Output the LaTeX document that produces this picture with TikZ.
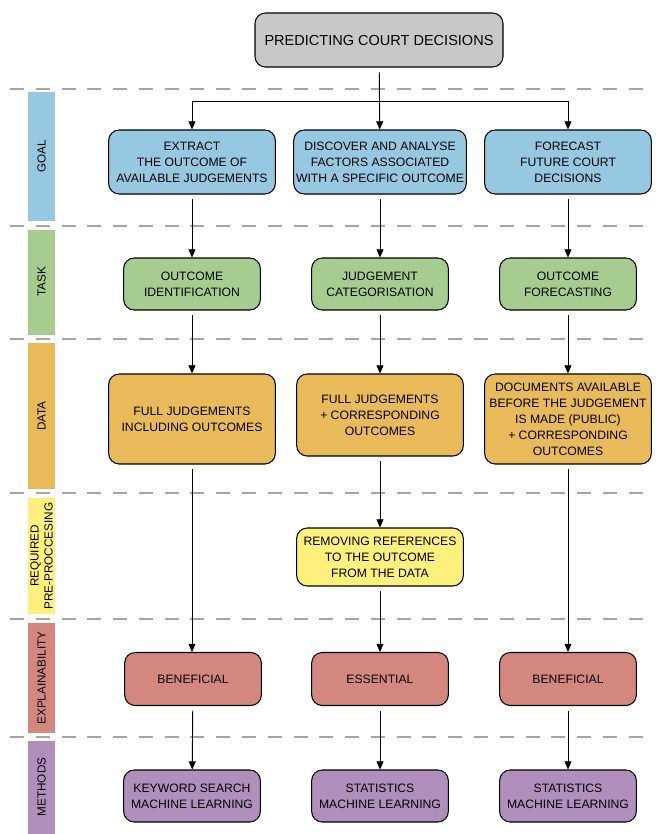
\documentclass[tikz,border=0pt]{standalone}
\usepackage{fontspec}
\setmainfont{Liberation Sans}
\usetikzlibrary{arrows.meta}

\definecolor{cgray}{HTML}{C8C8C8}
\definecolor{cgoal}{HTML}{96C9E1}
\definecolor{ctask}{HTML}{A6CD8F}
\definecolor{cdata}{HTML}{E8BA5A}
\definecolor{cprep}{HTML}{FDF07D}
\definecolor{cexpl}{HTML}{D4877F}
\definecolor{cmeth}{HTML}{B18FBD}

\tikzset{
  box/.style={draw, line width=0.9pt, rounded corners=9pt, align=center,
    font=\fontsize{10.4}{13.6}\selectfont, inner sep=2pt},
  wide/.style={minimum width=5.0cm},
  narrow/.style={minimum width=4.1cm},
  bar/.style={rotate=90, font=\fontsize{10}{12}\selectfont, align=center},
  sep/.style={gray!70, line width=0.9pt, dash pattern=on 12pt off 10pt},
  arr/.style={-{Triangle[length=7pt,width=6pt]}, line width=0.8pt, shorten <=4pt}
}

\begin{document}
\begin{tikzpicture}[x=0.03cm, y=-0.03cm]
\useasboundingbox (0,0) rectangle (660,834);

% separators
\foreach \y in {89,226,339,493,619,737}
  \draw[sep] (10,\y) -- (650,\y);

% left bars
\fill[cgoal] (28,92) rectangle (55,221);
\fill[ctask] (28,230) rectangle (55,335);
\fill[cdata] (28,343) rectangle (55,489);
\fill[cprep] (28,498) rectangle (55,614);
\fill[cexpl] (28,623) rectangle (55,733);
\fill[cmeth] (28,741) rectangle (55,834);
\node[bar] (lgoal) at (41.5,156) {GOAL};
\node[bar] (ltask) at (41.5,282) {TASK};
\node[bar] (ldata) at (41.5,416) {DATA};
\node[bar] (lprep) at (41.5,556) {REQUIRED\\PRE-PROCCESING};
\node[bar] (lexpl) at (41.5,678) {EXPLAINABILITY};
\node[bar] (lmeth) at (41.5,787) {METHODS};

% top
\node[box, fill=cgray, minimum width=7.44cm, minimum height=1.62cm,
  font=\fontsize{12.4}{14}\selectfont] (top) at (379,40) {PREDICTING COURT DECISIONS};

% goal
\node[box, wide, fill=cgoal, minimum height=1.92cm] (goalA) at (192,162)
  {EXTRACT\\THE OUTCOME OF\\AVAILABLE JUDGEMENTS};
\node[box, wide, fill=cgoal, minimum height=1.92cm] (goalB) at (380,162)
  {DISCOVER AND ANALYSE\\FACTORS ASSOCIATED\\WITH A SPECIFIC OUTCOME};
\node[box, wide, fill=cgoal, minimum height=1.92cm] (goalC) at (568,162)
  {FORECAST\\FUTURE COURT\\DECISIONS};

% task
\node[box, narrow, fill=ctask, minimum height=1.56cm] (taskA) at (192,284)
  {OUTCOME\\IDENTIFICATION};
\node[box, narrow, fill=ctask, minimum height=1.56cm] (taskB) at (380,284)
  {JUDGEMENT\\CATEGORISATION};
\node[box, narrow, fill=ctask, minimum height=1.56cm] (taskC) at (568,284)
  {OUTCOME\\FORECASTING};

% data
\node[box, wide, fill=cdata, minimum height=2.7cm] (dataA) at (192,419)
  {FULL JUDGEMENTS\\INCLUDING OUTCOMES};
\node[box, wide, fill=cdata, minimum height=2.46cm] (dataB) at (380,415)
  {FULL JUDGEMENTS\\+ CORRESPONDING\\OUTCOMES};
\node[box, wide, fill=cdata, minimum height=2.7cm] (dataC) at (568,419)
  {DOCUMENTS AVAILABLE\\BEFORE THE JUDGEMENT\\IS MADE (PUBLIC)\\+ CORRESPONDING\\OUTCOMES};

% pre-processing
\node[box, wide, fill=cprep, minimum height=1.74cm] (prepB) at (380,557)
  {REMOVING REFERENCES\\TO THE OUTCOME\\FROM THE DATA};

% explainability
\node[box, narrow, fill=cexpl, minimum height=1.59cm] (explA) at (193,679) {BENEFICIAL};
\node[box, narrow, fill=cexpl, minimum height=1.59cm] (explB) at (380,679) {ESSENTIAL};
\node[box, narrow, fill=cexpl, minimum height=1.59cm] (explC) at (568,679) {BENEFICIAL};

% methods
\node[box, narrow, fill=cmeth, minimum height=1.56cm] (methA) at (192,796)
  {KEYWORD SEARCH\\MACHINE LEARNING};
\node[box, narrow, fill=cmeth, minimum height=1.56cm] (methB) at (380,796)
  {STATISTICS\\MACHINE LEARNING};
\node[box, narrow, fill=cmeth, minimum height=1.56cm] (methC) at (568,796)
  {STATISTICS\\MACHINE LEARNING};

% connectors
\coordinate (split) at (380,101);
\draw[arr] (top) -- (goalB);
\draw[arr, shorten <=0pt] (split) -| (goalA);
\draw[arr, shorten <=0pt] (split) -| (goalC);
\draw[arr] (goalA) -- (taskA);
\draw[arr] (goalB) -- (taskB);
\draw[arr] (goalC) -- (taskC);
\draw[arr] (taskA) -- (dataA);
\draw[arr] (taskB) -- (dataB);
\draw[arr] (taskC) -- (dataC);
\draw[arr] (dataA.south) -- (dataA.south |- explA.north);
\draw[arr] (dataB) -- (prepB);
\draw[arr] (prepB) -- (explB);
\draw[arr] (dataC.south) -- (dataC.south |- explC.north);
\draw[arr] (explA) -- (methA);
\draw[arr] (explB) -- (methB);
\draw[arr] (explC) -- (methC);
\end{tikzpicture}
\end{document}
